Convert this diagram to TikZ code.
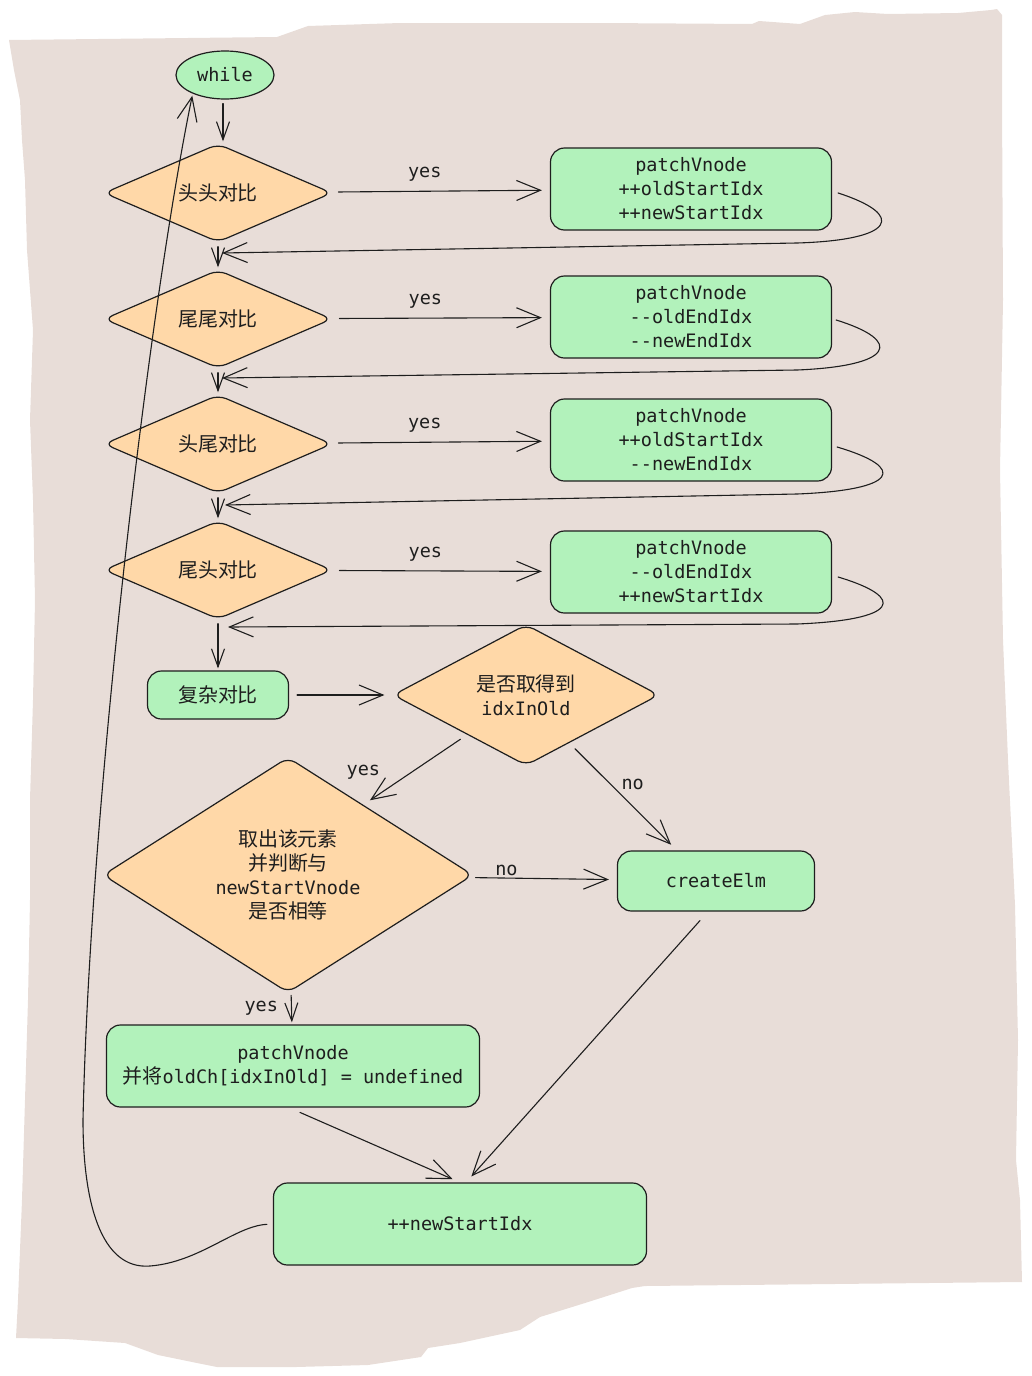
\documentclass[tikz,border=0pt]{standalone}
\usepackage{fontspec}
\setmonofont{DejaVu Sans Mono}
\newfontfamily\cjk{Noto Sans CJK SC}[Scale=1.08]
\usetikzlibrary{arrows.meta, positioning, shapes.geometric, calc}
\definecolor{paper}{RGB}{232,221,216}
\definecolor{mint}{RGB}{178,242,187}
\definecolor{peach}{RGB}{255,216,168}
\definecolor{ink}{RGB}{30,30,30}
\newcommand{\zh}[1]{{\cjk #1}}

\begin{document}
\begin{tikzpicture}[x=1pt, y=-1pt, font=\fontsize{18.5}{24}\selectfont\ttfamily, text=ink,
  procbox/.style={rectangle, rounded corners=14pt, draw=ink, fill=mint, line width=1.2pt,
    minimum width=281pt, minimum height=82pt, inner sep=2pt, align=center},
  decision/.style={diamond, rounded corners=9pt, draw=ink, fill=peach, line width=1.2pt,
    minimum width=228pt, minimum height=89pt, inner sep=0pt, align=center},
  startnode/.style={ellipse, draw=ink, fill=mint, line width=1.2pt,
    minimum width=98pt, minimum height=48pt, inner sep=0pt},
  arr/.style={-{Straight Barb[length=24pt,width=20pt]}, draw=ink, line width=1.1pt,
    line cap=round, line join=round, shorten <=8pt, shorten >=8pt},
  sarr/.style={arr, -{Straight Barb[length=18pt,width=13pt]}, shorten <=4pt, shorten >=2pt},
  lbl/.style={inner sep=1pt, font=\fontsize{18.5}{22}\selectfont\ttfamily}]
  \useasboundingbox (0,0) rectangle (1031,1376);
  % torn paper
  \fill[paper] (9,40) -- (277,37) -- (308,26) -- (400,23) -- (600,23) -- (752,24) -- (759,21)
    -- (800,24) -- (825,15) -- (855,12) -- (888,14) -- (958,13) -- (991,10) -- (997,9) -- (1002,15)
    -- (1002,100) -- (1003,300) -- (1000,470) -- (1003,640) -- (1008,760) -- (1015,905)
    -- (1018,1040) -- (1016,1160) -- (1020,1200) -- (1022,1282)
    -- (645,1286) -- (632,1288) -- (585,1303) -- (540,1317) -- (520,1330) -- (460,1343)
    -- (428,1348) -- (421,1357) -- (368,1365) -- (296,1367) -- (217,1367) -- (197,1363)
    -- (158,1355) -- (125,1343) -- (66,1339) -- (16,1338)
    -- (18,1300) -- (22,1200) -- (25,1100) -- (28,1000) -- (30,900) -- (30,800) -- (33,700)
    -- (35,600) -- (33,500) -- (30,420) -- (33,330) -- (27,250) -- (25,180) -- (22,140)
    -- (20,100) -- (14,70) -- cycle;

  % nodes
  \node[startnode] (while) at (225,75) {while};
  \node[decision] (hh) at (218,193) {\zh{头头对比}};
  \node[decision] (tt) at (218,319) {\zh{尾尾对比}};
  \node[decision] (ht) at (218,444) {\zh{头尾对比}};
  \node[decision] (th) at (218,570) {\zh{尾头对比}};
  \node[procbox] (phh) at (691,189) {patchVnode\\++oldStartIdx\\++newStartIdx};
  \node[procbox] (ptt) at (691,317) {patchVnode\\--oldEndIdx\\--newEndIdx};
  \node[procbox] (pht) at (691,440) {patchVnode\\++oldStartIdx\\--newEndIdx};
  \node[procbox] (pth) at (691,572) {patchVnode\\--oldEndIdx\\++newStartIdx};
  \node[procbox, minimum width=141pt, minimum height=48pt] (complex) at (218,695) {\zh{复杂对比}};
  \node[decision, minimum width=266pt, minimum height=111pt] (found) at (526,695) {\zh{是否取得到}\\idxInOld};
  \node[decision, minimum width=370pt, minimum height=202pt] (same) at (288,875)
    {\zh{取出该元素}\\\zh{并判断与}\\newStartVnode\\\zh{是否相等}};
  \node[procbox, minimum width=197pt, minimum height=60pt] (create) at (716,881) {createElm};
  \node[procbox, minimum width=373pt] (patch) at (293,1066) {patchVnode\\\zh{并将}oldCh[idxInOld] = undefined};
  \node[procbox, minimum width=373pt] (next) at (460,1224) {++newStartIdx};

  % return points on the main column
  \coordinate (j1) at (222,253);
  \coordinate (j2) at (222,378);
  \coordinate (j3) at (225,505);
  \coordinate (j4) at (228,627);

  % main column
  \draw[sarr] ([xshift=-2pt]while.south) -- ([xshift=-2pt]while.south |- hh.north);
  \draw[sarr] (hh) -- (tt);
  \draw[sarr] (tt) -- (ht);
  \draw[sarr] (ht) -- (th);
  \draw[sarr] (th) -- (complex);

  % matches
  \draw[arr] (hh) -- node[lbl, pos=0.43, above=8pt] (y1) {yes} (phh);
  \draw[arr] (tt) -- node[lbl, pos=0.43, above=8pt] (y2) {yes} (ptt);
  \draw[arr] (ht) -- node[lbl, pos=0.43, above=8pt] (y3) {yes} (pht);
  \draw[arr] (th) -- node[lbl, pos=0.43, above=8pt] (y4) {yes} (pth);

  \draw[arr, shorten >=0pt, shorten <=0pt] ($(phh.east)+(6,4)$) .. controls ($(phh.east)+(74,26)$)
    and ($(phh.east)+(64,51)$) .. ($(phh.east)+(-35,54)$) -- (j1);
  \draw[arr, shorten >=0pt, shorten <=0pt] ($(ptt.east)+(4,3)$) .. controls ($(ptt.east)+(72,24)$)
    and ($(ptt.east)+(62,49)$) .. ($(ptt.east)+(-35,53)$) -- (j2);
  \draw[arr, shorten >=0pt, shorten <=0pt] ($(pht.east)+(5,7)$) .. controls ($(pht.east)+(76,28)$)
    and ($(pht.east)+(66,50)$) .. ($(pht.east)+(-35,54)$) -- (j3);
  \draw[arr, shorten >=0pt, shorten <=0pt] ($(pth.east)+(6,5)$) .. controls ($(pth.east)+(76,26)$)
    and ($(pth.east)+(66,48)$) .. ($(pth.east)+(-35,52)$) -- (j4);

  % complex search
  \draw[arr] (complex) -- (found);
  \draw[arr] (found.214) -- node[lbl, at end, above=24pt] (y5) {yes} (same.43);
  \draw[arr] (found.312) -- node[lbl, midway, above right={5pt and -3pt}] (n1) {no} (create.142);
  \draw[arr, shorten <=6pt] (same) -- node[lbl, pos=0.25, above=1pt] (n2) {no} (create);
  \draw[sarr] (same) -- node[lbl, midway, left=12pt] (y6) {yes} (patch);
  \draw[arr, shorten <=12pt] ([xshift=-4pt]patch.south) -- (next.north);
  \draw[arr, shorten <=12pt] ([xshift=-8pt]create.south) -- ([xshift=6pt]next.north);

  % back to the loop
  \draw[arr, shorten <=6pt, shorten >=2pt] (next.west) .. controls (235,1226) and (200,1262) .. (150,1266)
    .. controls (100,1270) and (83,1200) .. (83,1120)
    .. controls (90,800) and (150,300) .. (while.210);
\end{tikzpicture}
\end{document}
